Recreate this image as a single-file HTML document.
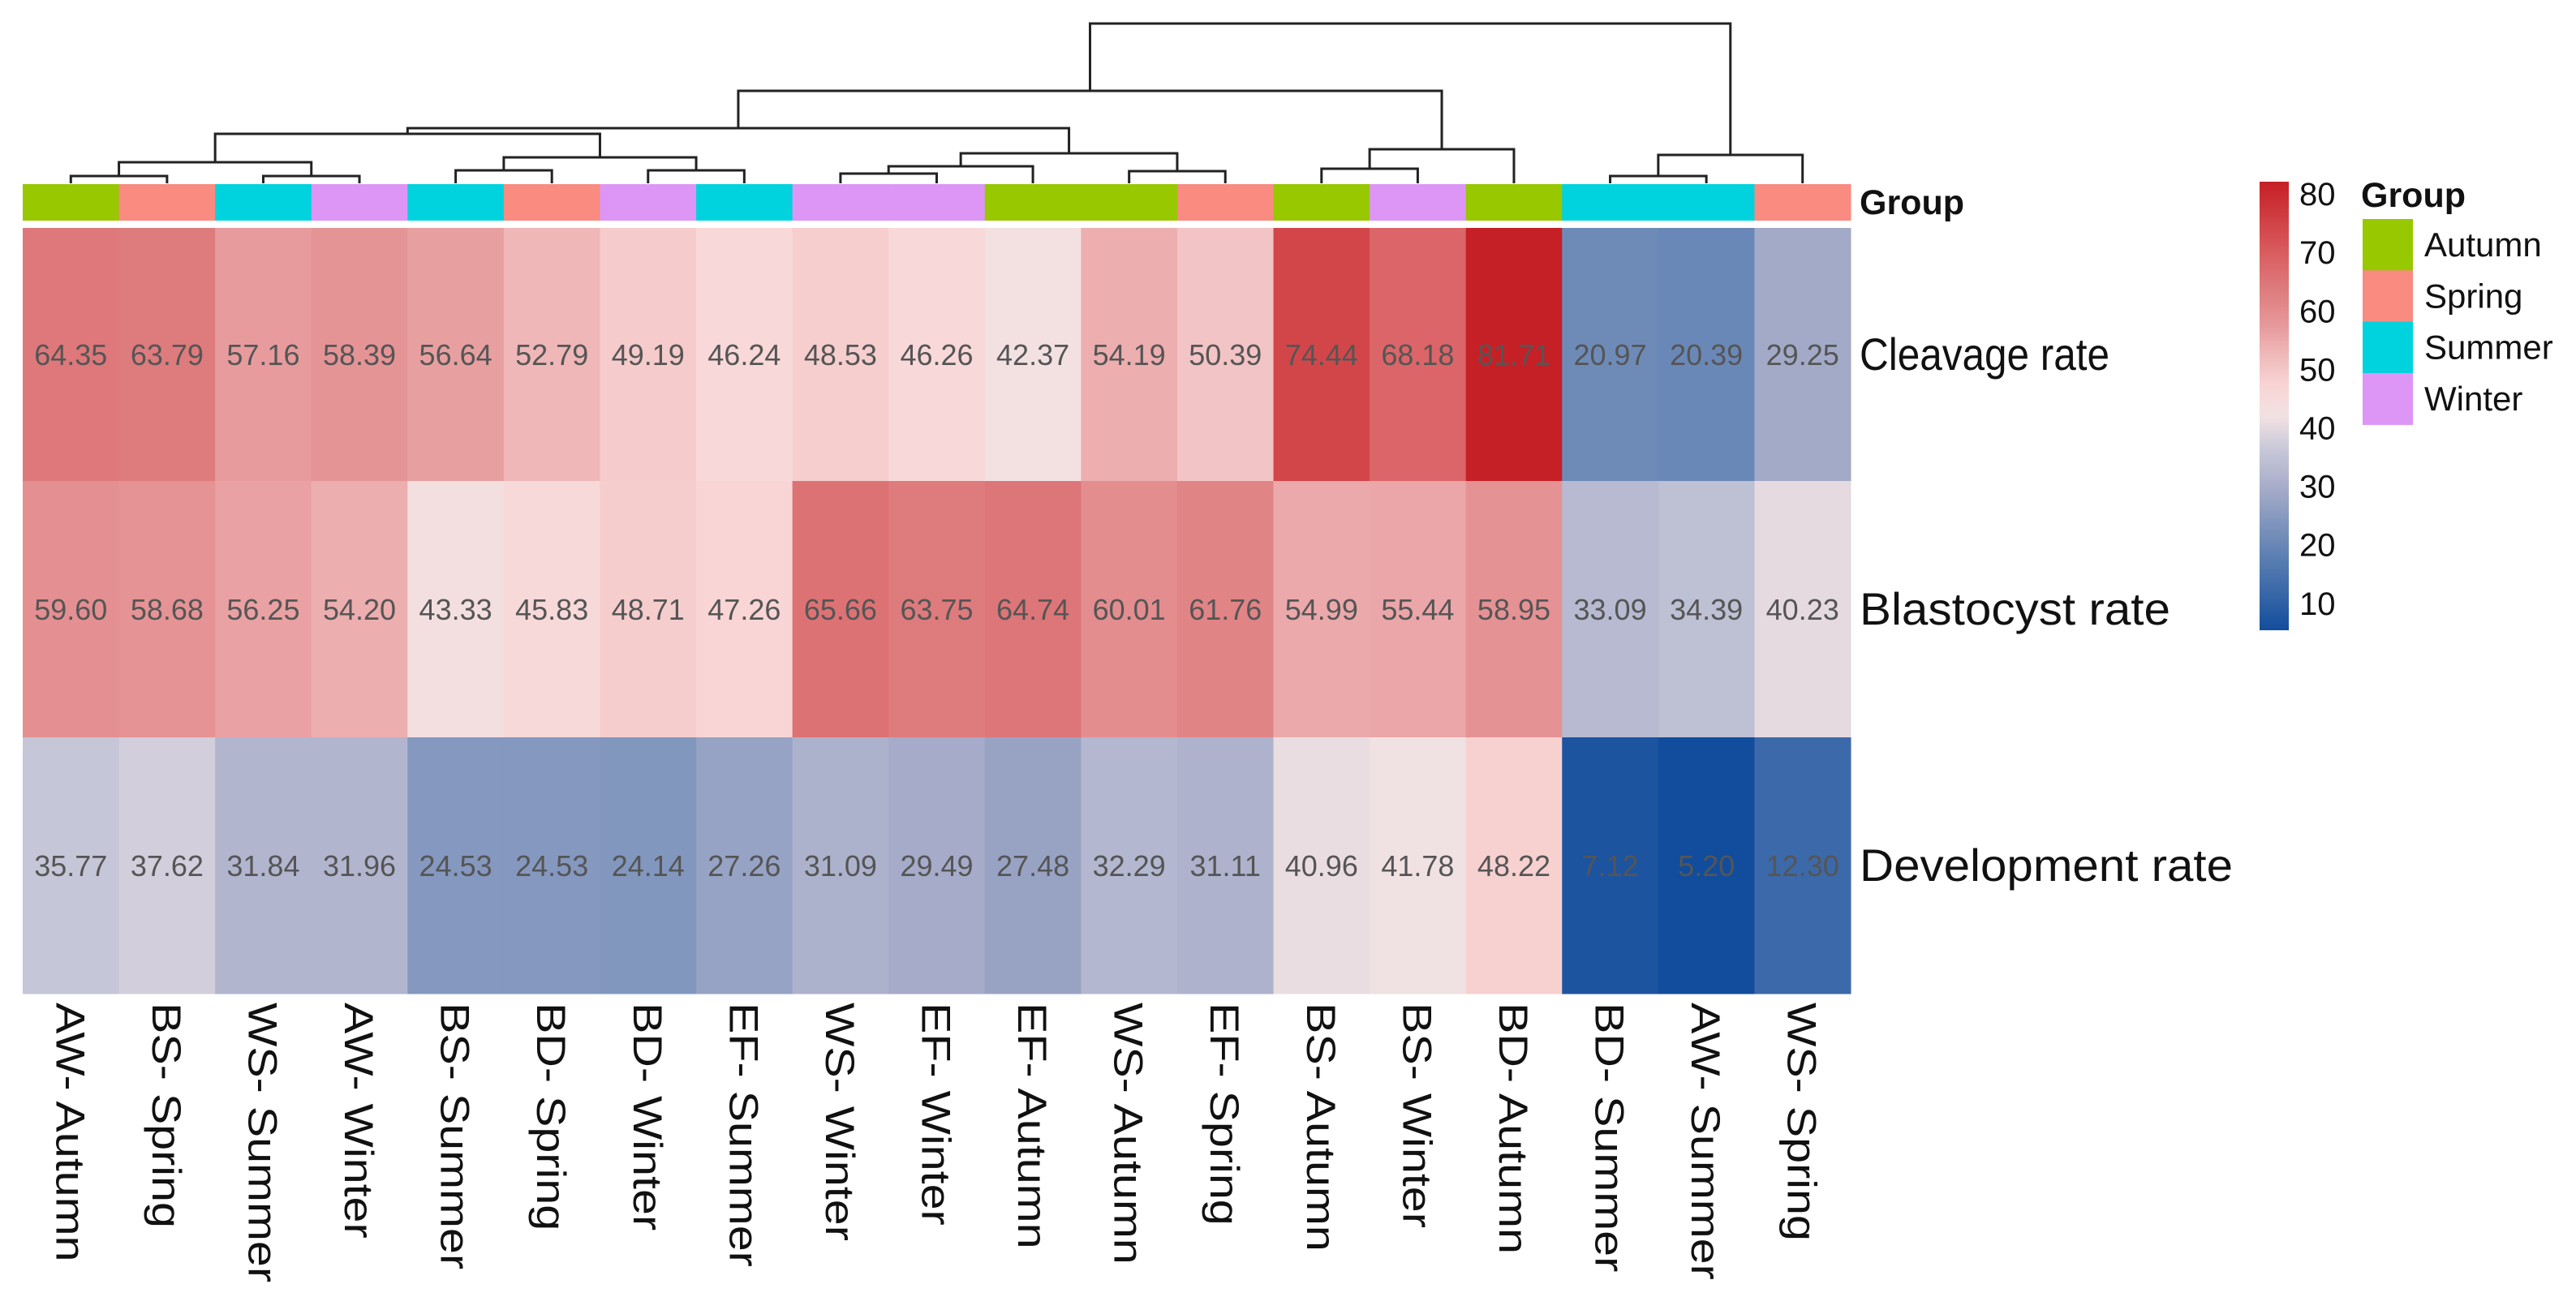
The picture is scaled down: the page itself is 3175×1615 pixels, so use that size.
<!DOCTYPE html>
<html><head><meta charset="utf-8"><style>
html,body{margin:0;padding:0;background:#fff;}
svg{display:block;font-family:"Liberation Sans",Arial,sans-serif;}
</style></head><body>
<svg id="chart" width="3175" height="1615" viewBox="0 0 3175 1615" xmlns="http://www.w3.org/2000/svg"></svg>
<script>
const categories = ["AW- Autumn","BS- Spring","WS- Summer","AW- Winter","BS- Summer","BD- Spring","BD- Winter","EF- Summer","WS- Winter","EF- Winter","EF- Autumn","WS- Autumn","EF- Spring","BS- Autumn","BS- Winter","BD- Autumn","BD- Summer","AW- Summer","WS- Spring"];
const rowNames = ["Cleavage rate","Blastocyst rate","Development rate"];
const cleavage = [64.35,63.79,57.16,58.39,56.64,52.79,49.19,46.24,48.53,46.26,42.37,54.19,50.39,74.44,68.18,81.71,20.97,20.39,29.25];
const blastocyst = [59.60,58.68,56.25,54.20,43.33,45.83,48.71,47.26,65.66,63.75,64.74,60.01,61.76,54.99,55.44,58.95,33.09,34.39,40.23];
const development = [35.77,37.62,31.84,31.96,24.53,24.53,24.14,27.26,31.09,29.49,27.48,32.29,31.11,40.96,41.78,48.22,7.12,5.20,12.30];
const colorTicks = [10,20,30,40,50,60,70,80];
const groupNames = ["Autumn","Spring","Summer","Winter"];
// dendrogram merges: [childA, childB, distance]; leaves are numbers, nodes are "n#"
const merges = [
 [0,1,9],[2,3,9],["n0","n1",26],[4,5,16],[6,7,16],["n3","n4",32],["n2","n5",61],
 [8,9,12],["n7",10,21],[11,12,15],["n8","n9",37],["n6","n10",68],
 [13,14,18],["n12",15,42],["n11","n13",114],[16,17,9],["n15",18,35],["n14","n16",197]
];

const NS="http://www.w3.org/2000/svg";
const svg=document.getElementById('chart');
function el(tag,attrs,parent){const e=document.createElementNS(NS,tag);for(const k in attrs)e.setAttribute(k,attrs[k]);(parent||svg).appendChild(e);return e;}

const X0=28, X1=2281, cw=(X1-X0)/categories.length;
const xOf=i=>X0+cw*i;
const xc=i=>X0+cw*(i+0.5);
const rowTop=[281,593,909], rowBot=[593,909,1225];
const rowLabelWidths=[308,383,460];
const dendBase=226, distScale=1.0;
const yDist=d=>dendBase-d*distScale;
const groupColors={Autumn:"#97c800",Spring:"#f98b80",Summer:"#00d3dd",Winter:"#dd95f6"};

const stops=[[5,[16,76,156]],[12,[58,104,168]],[20,[104,135,182]],[30,[168,173,201]],[36,[198,199,216]],[42,[242,226,227]],[47,[249,214,214]],[52,[240,188,189]],[58,[230,150,152]],[64,[222,122,124]],[70,[217,92,95]],[76,[208,62,66]],[82,[198,31,38]]];
function color(v){
 if(v<=stops[0][0])return `rgb(${stops[0][1]})`;
 for(let i=1;i<stops.length;i++){if(v<=stops[i][0]){const a=stops[i-1],b=stops[i],t=(v-a[0])/(b[0]-a[0]);
  const c=a[1].map((x,k)=>Math.round(x+(b[1][k]-x)*t));return `rgb(${c.join(',')})`;}}
 return `rgb(${stops[stops.length-1][1]})`;
}

// dendrogram
const dg=el('g',{});


const nodes={};
function pos(c){return typeof c==='number'?{x:xc(c),y:dendBase}:nodes[c];}
merges.forEach((m,i)=>{
 const a=pos(m[0]),b=pos(m[1]),y=yDist(m[2]);
 const p=el('path',{d:`M${a.x},${a.y}V${y}H${b.x}V${b.y}`,fill:'none',stroke:'#222','stroke-width':3},dg);
 
 
 nodes['n'+i]={x:(a.x+b.x)/2,y:y};
});

// group annotation bar
categories.forEach((c,i)=>{
 const g=c.split('- ')[1];
 const r=el('rect',{x:xOf(i),y:227,width:cw+0.5,height:45,fill:groupColors[g]});
 
 
});
const gl=el('text',{x:2292,y:264,'font-size':43,'font-weight':'bold',fill:'#111'});
gl.textContent='Group';



// heatmap
const series=[cleavage,blastocyst,development];
series.forEach((vals,r)=>{
 vals.forEach((v,i)=>{
  const rc=el('rect',{x:xOf(i),y:rowTop[r],width:cw+0.5,height:rowBot[r]-rowTop[r]+0.5,fill:color(v)});
  
  
  const t=el('text',{x:xc(i),y:(rowTop[r]+rowBot[r])/2+13,'font-size':36,'text-anchor':'middle',fill:'#555'});
  t.textContent=v.toFixed(2);
  
  
 });
 const rl=el('text',{transform:`translate(2292,${(rowTop[r]+rowBot[r])/2+19}) scale(1,1.12)`,'font-size':50,fill:'#111',textLength:rowLabelWidths[r],lengthAdjust:'spacingAndGlyphs'});
 rl.textContent=rowNames[r];
 
 
});

// column labels
categories.forEach((c,i)=>{
 const t=el('text',{transform:`translate(${xc(i)-18},1236) rotate(90) scale(1.15,1)`,'font-size':50,fill:'#111'});
 t.textContent=c;
 
 
});

// color bar legend
const defs=el('defs',{});
const grad=el('linearGradient',{id:'cb',x1:0,y1:1,x2:0,y2:0},defs);
const vMin=5.4,vMax=82.1,cbTop=224,cbBot=777;
for(let k=0;k<=40;k++){const v=vMin+(vMax-vMin)*k/40;el('stop',{offset:k/40,'stop-color':color(v)},grad);}
const cb=el('rect',{x:2785,y:cbTop,width:36,height:cbBot-cbTop,fill:'url(#cb)'});


const yCb=v=>cbBot-(v-vMin)/(vMax-vMin)*(cbBot-cbTop);
colorTicks.forEach(v=>{
 const t=el('text',{x:2834,y:yCb(v)+14,'font-size':40,fill:'#111'});
 t.textContent=v;
 
 
});

// group legend
const lt=el('text',{x:2910,y:255,'font-size':43,'font-weight':'bold',fill:'#111'});
lt.textContent='Group';


groupNames.forEach((g,i)=>{
 const y=270+i*63.3;
 const s=el('rect',{x:2912,y:y,width:62,height:64,fill:groupColors[g]});
 
 
 const t=el('text',{x:2988,y:y+46,'font-size':42,fill:'#111'});
 t.textContent=g;
 
 
});
</script>
</body></html>
